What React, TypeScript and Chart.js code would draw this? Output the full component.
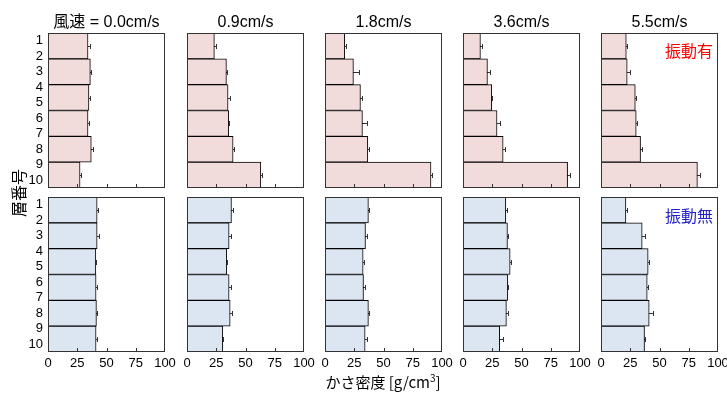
import React, { useEffect, useRef } from 'react';
import { Chart, registerables } from 'chart.js';
Chart.register(...registerables);

// ---- data ----
const windSpeedLabels = ['風速 = 0.0cm/s', '0.9cm/s', '1.8cm/s', '3.6cm/s', '5.5cm/s'];
const layerTicks = [1, 2, 3, 4, 5, 6, 7, 8, 9, 10];
const xTickValues = [0, 25, 50, 75, 100];
const segmentLabels = ['S1', 'S2', 'S3', 'S4', 'S5', 'S6'];

// 振動有 (with vibration)
const vibOn_00 = [34.2, 36.2, 35.0, 34.2, 37.0, 27.4];
const vibOn_09 = [23.4, 33.7, 35.1, 35.7, 39.4, 63.1];
const vibOn_18 = [16.9, 24.3, 30.3, 32.0, 36.6, 90.6];
const vibOn_36 = [14.9, 20.9, 24.6, 29.1, 34.3, 89.4];
const vibOn_55 = [21.6, 22.4, 29.3, 30.1, 33.8, 82.4];
const vibOnErr_00 = [1.5, 0.8, 0.8, 0.8, 1.5, 0.5];
const vibOnErr_09 = [1.5, 0.5, 1.5, 0.5, 0.5, 0.8];
const vibOnErr_18 = [0.8, 4.5, 1.2, 4.0, 0.8, 0.8];
const vibOnErr_36 = [1.0, 2.5, 0.5, 2.5, 1.5, 2.2];
const vibOnErr_55 = [0.5, 2.0, 0.8, 0.5, 1.0, 2.0];

// 振動無 (without vibration)
const vibOff_00 = [42.0, 42.0, 40.9, 41.1, 41.4, 41.1];
const vibOff_09 = [38.0, 36.0, 34.0, 36.0, 36.9, 30.6];
const vibOff_18 = [37.1, 34.6, 32.6, 32.9, 37.1, 34.3];
const vibOff_36 = [36.6, 38.0, 40.3, 38.3, 37.1, 31.4];
const vibOff_55 = [21.3, 35.2, 40.3, 39.5, 41.2, 37.2];
const vibOffErr_00 = [0.5, 1.8, 0.5, 0.8, 0.5, 0.5];
const vibOffErr_09 = [1.5, 1.5, 0.5, 1.5, 1.2, 0.5];
const vibOffErr_18 = [0.5, 1.5, 0.5, 1.5, 0.5, 1.8];
const vibOffErr_36 = [0.8, 0.5, 0.8, 0.5, 1.2, 2.8];
const vibOffErr_55 = [0.5, 2.8, 0.5, 0.5, 3.0, 0.5];

const rowsValues = [
  [vibOn_00, vibOn_09, vibOn_18, vibOn_36, vibOn_55],
  [vibOff_00, vibOff_09, vibOff_18, vibOff_36, vibOff_55],
];
const rowsErrors = [
  [vibOnErr_00, vibOnErr_09, vibOnErr_18, vibOnErr_36, vibOnErr_55],
  [vibOffErr_00, vibOffErr_09, vibOffErr_18, vibOffErr_36, vibOffErr_55],
];
const rowColors = ['#f2dcdb', '#dce6f2'];

// ---- layout ----
const panelLefts = [48, 187, 325, 463, 601];
const panelTops = [33, 197];
const PANEL_W = 117;
const PANEL_H = 155;
const AX_W = 45;
const PAD_T = 10;
const PAD_R = 16;
const AX_H = 25;
const Y_MIN = 0.5;
const Y_MAX = 10.5;
const FONT = '"Liberation Sans", "Noto Sans CJK JP", sans-serif';
const JFONT = '"Noto Sans CJK JP", "Liberation Sans", sans-serif';

function Panel(props: { values: number[]; errors: number[]; color: string; left: number; top: number; showY: boolean; showX: boolean }) {
  const ref = useRef<HTMLCanvasElement>(null);
  const { values, errors, color, left, top, showY, showX } = props;
  useEffect(() => {
    const errPlugin = {
      id: 'errbars',
      beforeDatasetsDraw(chart: any) {
        const ctx = chart.ctx;
        const xs = chart.scales.x;
        const ys = chart.scales.y;
        ctx.save();
        ctx.strokeStyle = '#333';
        ctx.lineWidth = 1;
        values.forEach((v, i) => {
          const yc = Math.round(ys.getPixelForValue(i)) + 0.5;
          const x0 = xs.getPixelForValue(v - errors[i]);
          const x1 = Math.round(xs.getPixelForValue(v + errors[i])) + 0.5;
          ctx.beginPath();
          ctx.moveTo(x0, yc);
          ctx.lineTo(x1, yc);
          ctx.moveTo(x1, yc - 2.5);
          ctx.lineTo(x1, yc + 2.5);
          ctx.stroke();
        });
        ctx.restore();
      },
      afterDraw(chart: any) {
        const ctx = chart.ctx;
        const a = chart.chartArea;
        const xs = chart.scales.x;
        ctx.save();
        ctx.strokeStyle = '#333';
        ctx.lineWidth = 1;
        ctx.beginPath();
        xTickValues.forEach((t) => {
          if (t === xTickValues[0] || t === xTickValues[xTickValues.length - 1]) return;
          const x = Math.round(xs.getPixelForValue(t)) + 0.5;
          ctx.moveTo(x, a.bottom);
          ctx.lineTo(x, a.bottom - 4);
        });
        ctx.stroke();
        ctx.strokeRect(Math.round(a.left) + 0.5, Math.round(a.top) + 0.5, Math.round(a.right - a.left) - 1, Math.round(a.bottom - a.top) - 1);
        ctx.restore();
      },
    };
    const chart = new Chart(ref.current as HTMLCanvasElement, {
      type: 'bar',
      data: {
        labels: segmentLabels,
        datasets: [
          {
            data: values,
            backgroundColor: color,
            borderColor: '#000',
            borderWidth: 1,
            barPercentage: 1,
            categoryPercentage: 1,
            borderSkipped: 'start',
          },
        ],
      },
      options: {
        indexAxis: 'y',
        responsive: false,
        animation: false,
        devicePixelRatio: 1,
        layout: { padding: { top: PAD_T, right: PAD_R, left: 0, bottom: 0 } },
        plugins: { legend: { display: false }, tooltip: { enabled: false } },
        scales: {
          x: {
            type: 'linear',
            min: 0,
            max: 100,
            bounds: 'data',
            offset: false,
            afterBuildTicks: (s: any) => {
              s.ticks = xTickValues.map((v) => ({ value: v }));
              s.min = 0;
              s.max = 100;
            },
            afterFit: (s: any) => {
              s.height = AX_H;
              s.paddingLeft = 0;
              s.paddingRight = 0;
            },
            grid: { display: false, drawTicks: false },
            border: { display: false },
            ticks: { display: showX, color: '#000', font: { family: FONT, size: 13 }, padding: 4, maxRotation: 0, autoSkip: false },
          },
          y: { type: 'category', display: false },
          y2: {
            type: 'linear',
            position: 'left',
            reverse: true,
            min: Y_MIN,
            max: Y_MAX,
            bounds: 'data',
            offset: false,
            afterBuildTicks: (s: any) => {
              s.ticks = layerTicks.map((v) => ({ value: v }));
              s.min = Y_MIN;
              s.max = Y_MAX;
            },
            afterFit: (s: any) => {
              s.width = AX_W;
              s.paddingTop = 0;
              s.paddingBottom = 0;
            },
            grid: { display: false, drawTicks: false, offset: false },
            border: { display: false },
            ticks: { display: showY, color: '#000', font: { family: FONT, size: 13 }, padding: 5, autoSkip: false },
          },
        },
      } as any,
      plugins: [errPlugin],
    });
    return () => chart.destroy();
  }, []);
  const w = AX_W + PANEL_W + PAD_R;
  const h = PAD_T + PANEL_H + AX_H;
  return (
    <canvas
      ref={ref}
      width={w}
      height={h}
      style={{ position: 'absolute', left: left - AX_W, top: top - PAD_T, width: w, height: h }}
    />
  );
}

export default function App() {
  const panels: any[] = [];
  rowsValues.forEach((row, r) => {
    row.forEach((vals, c) => {
      panels.push(
        <Panel
          key={`${r}-${c}`}
          values={vals}
          errors={rowsErrors[r][c]}
          color={rowColors[r]}
          left={panelLefts[c]}
          top={panelTops[r]}
          showY={c === 0}
          showX={r === 1}
        />
      );
    });
  });
  return (
    <div style={{ position: 'fixed', left: 0, top: 0, width: 727, height: 394, background: '#fff', overflow: 'hidden' }}>
      {panels}
      {windSpeedLabels.map((t, i) => (
        <div
          key={t}
          style={{
            position: 'absolute',
            left: panelLefts[i] - 30,
            width: PANEL_W + 60,
            top: 12,
            lineHeight: '19px',
            textAlign: 'center',
            fontFamily: FONT,
            fontSize: 16,
            color: '#000',
            whiteSpace: 'nowrap',
          }}
        >
          {t}
        </div>
      ))}
      <div style={{ position: 'absolute', right: 14, top: 41, lineHeight: '18px', fontFamily: JFONT, fontSize: 16, color: '#ff0000' }}>振動有</div>
      <div style={{ position: 'absolute', right: 14, top: 206, lineHeight: '18px', fontFamily: JFONT, fontSize: 16, color: '#2222cc' }}>振動無</div>
      <div
        style={{
          position: 'absolute',
          left: 18 - 40,
          top: 193 - 10,
          width: 80,
          height: 20,
          lineHeight: '20px',
          textAlign: 'center',
          transform: 'rotate(-90deg)',
          fontFamily: JFONT,
          fontSize: 16,
          color: '#000',
        }}
      >
        層番号
      </div>
      <div
        style={{
          position: 'absolute',
          left: 383 - 100,
          width: 200,
          top: 372,
          lineHeight: '20px',
          textAlign: 'center',
          fontFamily: JFONT,
          fontSize: 15,
          color: '#000',
          whiteSpace: 'nowrap',
        }}
      >
        かさ密度 [g/cm<sup style={{ fontSize: 10, verticalAlign: 'super', lineHeight: 0 }}>3</sup>]
      </div>
    </div>
  );
}
